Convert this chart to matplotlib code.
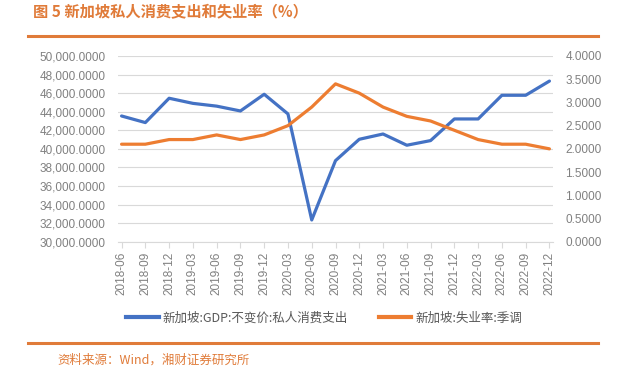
import matplotlib
matplotlib.use('Agg')
import matplotlib.pyplot as plt
from matplotlib.lines import Line2D
from matplotlib.ticker import FuncFormatter

plt.rcParams['font.family'] = ['Noto Sans CJK SC', 'DejaVu Sans']

quarters = ['2018-06', '2018-09', '2018-12', '2019-03', '2019-06', '2019-09', '2019-12',
            '2020-03', '2020-06', '2020-09', '2020-12', '2021-03', '2021-06', '2021-09',
            '2021-12', '2022-03', '2022-06', '2022-09', '2022-12']
consumption = [43540, 42830, 45450, 44900, 44600, 44080, 45880, 43760, 32340, 38730,
               41030, 41600, 40390, 40890, 43220, 43220, 45770, 45770, 47300]
unemployment = [2.1, 2.1, 2.2, 2.2, 2.3, 2.2, 2.3, 2.5, 2.9, 3.4,
                3.2, 2.9, 2.7, 2.6, 2.4, 2.2, 2.1, 2.1, 2.0]

blue = '#4472C4'
orange = '#ED7D31'
gray = '#808080'
accent = '#E07B39'

fig = plt.figure(figsize=(6.2, 3.68), dpi=100)
ax = fig.add_axes([118/620, 1-241.7/368, 435/620, 185.7/368])
ax2 = ax.twinx()

x = list(range(len(quarters)))
ax.plot(x, consumption, color=blue, lw=2.3, solid_capstyle='round', zorder=3)
ax2.plot(x, unemployment, color=orange, lw=2.3, solid_capstyle='round', zorder=3)

ax.set_ylim(30000, 50000)
ax.set_yticks(range(30000, 50001, 2000))
ax.yaxis.set_major_formatter(FuncFormatter(lambda v, p: '{:,.4f}'.format(v)))
ax2.set_ylim(0, 4)
ax2.set_yticks([i*0.5 for i in range(9)])
ax2.yaxis.set_major_formatter(FuncFormatter(lambda v, p: '{:.4f}'.format(v)))
ax.set_xlim(-0.15, 18.15)
ax.set_xticks(x)
ax.set_xticklabels(quarters, rotation=90)

ax.grid(axis='y', color='#D9D9D9', lw=0.8)
ax.set_axisbelow(True)
for a in (ax, ax2):
    for s in a.spines.values():
        s.set_visible(False)
ax.spines['bottom'].set_visible(True)
ax.spines['bottom'].set_color('#D9D9D9')
ax.tick_params(axis='y', length=0, pad=9, labelsize=8.5, labelcolor=gray)
ax2.tick_params(axis='y', length=0, pad=9, labelsize=8.5, labelcolor=gray)
ax.tick_params(axis='x', length=4, color='#D9D9D9', pad=3, labelsize=8.5, labelcolor=gray)
for lab in ax.get_yticklabels() + ax2.get_yticklabels() + ax.get_xticklabels():
    lab.set_family(['Liberation Sans', 'DejaVu Sans'])

handles = [Line2D([], [], color=blue, lw=3), Line2D([], [], color=orange, lw=3)]
fig.legend(handles, ['新加坡:GDP:不变价:私人消费支出', '新加坡:失业率:季调'],
           loc='center', bbox_to_anchor=(324/620, 1-318/368), ncol=2, frameon=False,
           fontsize=9, labelcolor='#595959', handlelength=2.6, handletextpad=0.3,
           columnspacing=2.5)

fig.text(33/620, 1-12/368, '图 5 新加坡私人消费支出和失业率（%）', color=accent,
         fontsize=11, fontweight='bold', va='center', ha='left')
fig.add_artist(Line2D([28/620, 598/620], [1-36/368, 1-36/368], color=accent, lw=2.2))
fig.add_artist(Line2D([28/620, 598/620], [1-343/368, 1-343/368], color=accent, lw=2.2))
fig.text(57/620, 1-367/368, '资料来源：Wind，湘财证券研究所', color=accent,
         fontsize=9, va='bottom', ha='left')

fig.savefig('out.png', dpi=100)
